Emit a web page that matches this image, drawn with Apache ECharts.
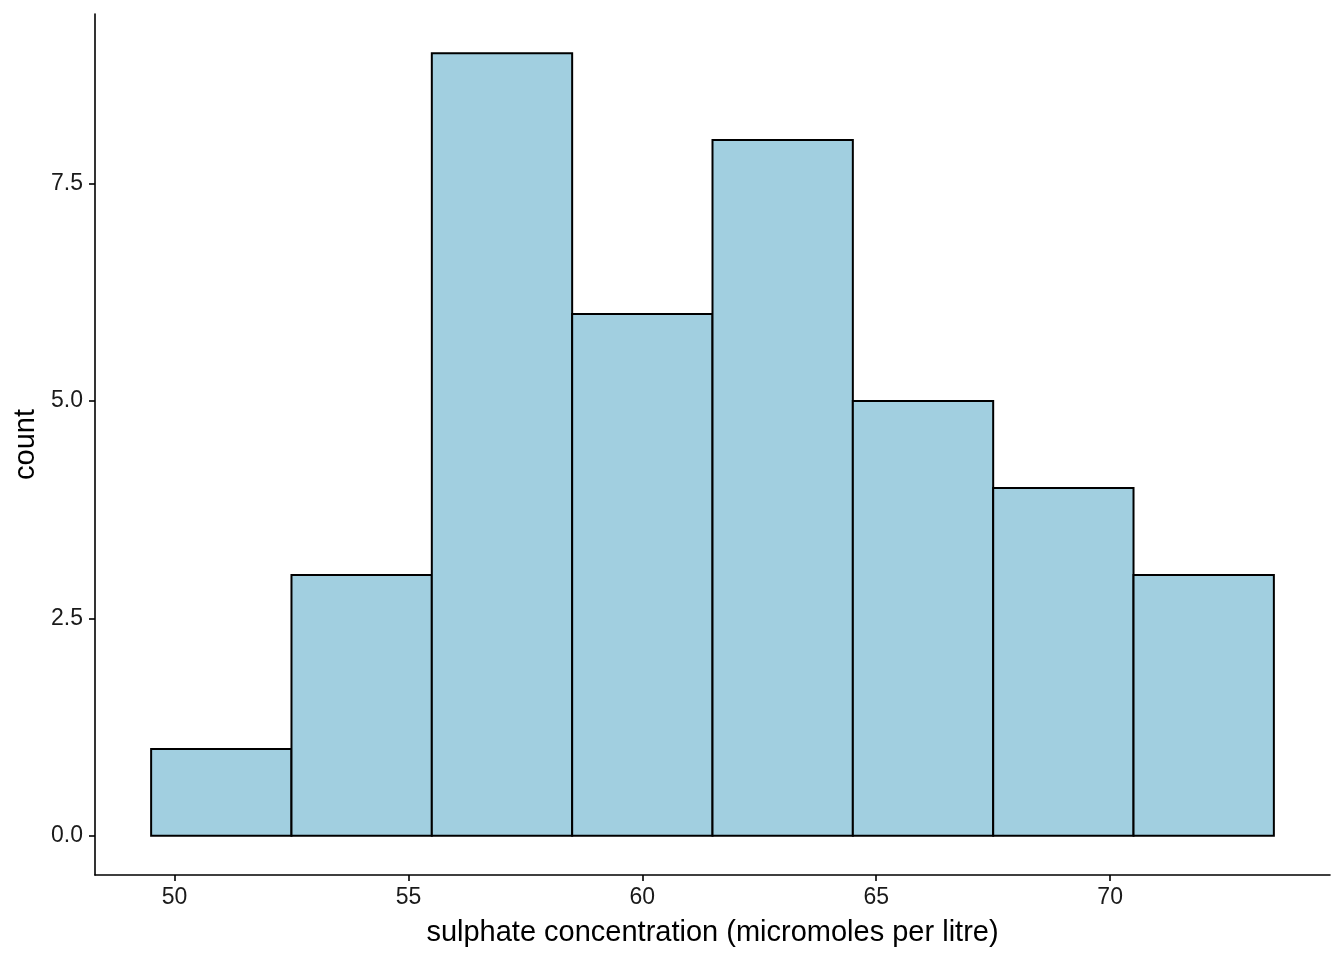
<!DOCTYPE html>
<html><head><meta charset="utf-8">
<script src="https://cdn.jsdelivr.net/npm/echarts@6/dist/echarts.min.js"></script>
<style>html,body{margin:0;padding:0;background:#fff}#c{width:1344px;height:960px}</style>
</head><body><div id="c"></div>
<script>
const binStart = [49.5, 52.5, 55.5, 58.5, 61.5, 64.5, 67.5, 70.5];
const binEnd   = [52.5, 55.5, 58.5, 61.5, 64.5, 67.5, 70.5, 73.5];
const counts   = [1, 3, 9, 6, 8, 5, 4, 3];
const xTicks = [50, 55, 60, 65, 70];
const yTicks = [0, 2.5, 5, 7.5];
const xTitle = 'sulphate concentration (micromoles per litre)';
const yTitle = 'count';

const data = binStart.map((s, i) => [s, binEnd[i], counts[i]]);
const chart = echarts.init(document.getElementById('c'), null, {renderer: 'canvas'});
const font = 'Liberation Sans, Arial, sans-serif';
chart.setOption({
  animation: false,
  grid: {left: 95, right: 14, top: 14, bottom: 85, containLabel: false},
  xAxis: {
    type: 'value', min: 48.3, max: 74.7,
    splitLine: {show: false},
    axisLine: {show: true, onZero: false, lineStyle: {color: '#000', width: 1.6}},
    axisTick: {show: true, length: 6, lineStyle: {color: '#000', width: 1.6}, customValues: xTicks},
    axisLabel: {customValues: xTicks, color: '#1a1a1a', fontSize: 23, fontFamily: font, margin: 11},
    name: xTitle, nameLocation: 'middle', nameGap: 43,
    nameTextStyle: {color: '#000', fontSize: 29, fontFamily: font}
  },
  yAxis: {
    type: 'value', min: -0.45, max: 9.45,
    splitLine: {show: false},
    axisLine: {show: true, onZero: false, lineStyle: {color: '#000', width: 1.6}},
    axisTick: {show: true, length: 6, lineStyle: {color: '#000', width: 1.6}, customValues: yTicks},
    axisLabel: {customValues: yTicks, color: '#1a1a1a', fontSize: 23, fontFamily: font, margin: 12,
      formatter: v => v.toFixed(1)},
    name: yTitle, nameLocation: 'middle', nameGap: 52, nameRotate: 90,
    nameTextStyle: {color: '#000', fontSize: 29, fontFamily: font}
  },
  series: [{
    type: 'custom',
    data: data,
    renderItem: function (params, api) {
      const p0 = api.coord([api.value(0), 0]);
      const p1 = api.coord([api.value(1), api.value(2)]);
      return {
        type: 'rect',
        shape: {x: p0[0], y: p1[1], width: p1[0] - p0[0], height: p0[1] - p1[1]},
        style: {fill: '#A1CFE0', stroke: '#000', lineWidth: 2}
      };
    }
  }]
});
</script></body></html>
